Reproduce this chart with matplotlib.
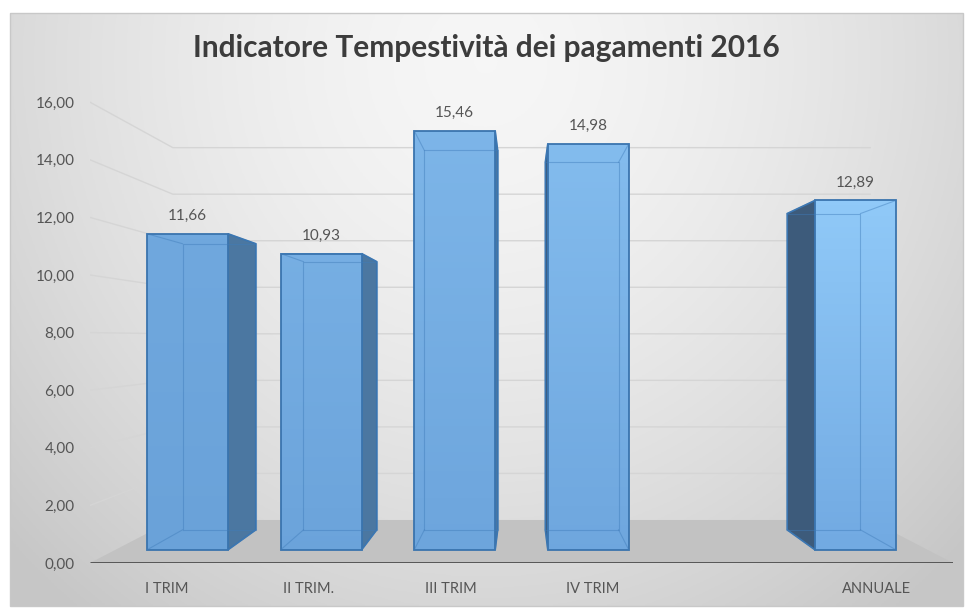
import matplotlib.pyplot as plt
import numpy as np
from matplotlib.patches import Polygon, Rectangle
from matplotlib.colors import to_rgb

# data
categories = ['I TRIM', 'II TRIM.', 'III TRIM', 'IV TRIM', '', 'ANNUALE']
values = [11.66, 10.93, 15.46, 14.98, None, 12.89]
y_ticks = [0, 2, 4, 6, 8, 10, 12, 14, 16]
title = 'Indicatore Tempestività dei pagamenti 2016'

plt.rcParams['font.family'] = ['Lato', 'DejaVu Sans']

# fake 3d: one-point perspective in data units
VP = (2.5, 7.78)
K_FRONT, K_BACK, K_WALL = 0.941, 0.852, 0.808
HALF_W = 0.303
X_LO, X_HI = -0.54, 5.54
TXT = '#555555'


def proj(x, y, k):
    return VP[0] + (x - VP[0]) * k, VP[1] + (y - VP[1]) * k


def fmt(v):
    return f'{v:.2f}'.replace('.', ',')


W, H = 973, 613
fig = plt.figure(figsize=(W / 100, H / 100), dpi=100)

# background of the chart area
bg = fig.add_axes([0, 0, 1, 1])
bg.set_xlim(0, W)
bg.set_ylim(H, 0)
bg.axis('off')
gx, gy = np.meshgrid(np.linspace(10, 963, 300), np.linspace(13, 606, 200))
r = np.sqrt(((gx - 486) / 600) ** 2 + ((gy - 60) / 640) ** 2)
shade = np.clip(0.965 - 0.16 * np.clip(r, 0, 1.3) ** 1.6, 0.78, 1)
bg.imshow(np.dstack([shade] * 3), extent=(10, 963, 606, 13), aspect='auto', zorder=0)
bg.add_patch(Rectangle((10, 13), 953, 593, fill=False, ec='#c8c8c8', lw=1, zorder=1))

ax = fig.add_axes([90 / W, 50 / H, 863 / W, 504 / H])
ax.patch.set_alpha(0)
ax.set_xlim(X_LO, X_HI)
ax.set_ylim(0, 17.5)
for s in ax.spines.values():
    s.set_visible(False)

# walls: gridlines on side wall and back wall
for t in y_ticks[1:]:
    bl = proj(X_LO, t, K_WALL)
    br = proj(X_HI, t, K_WALL)
    ax.plot([X_LO, bl[0], br[0]], [t, bl[1], br[1]], color='#d5d5d5', lw=1, zorder=1)

# floor
fl = [(X_LO, 0), (X_HI, 0), proj(X_HI, 0, K_WALL), proj(X_LO, 0, K_WALL)]
ax.add_patch(Polygon(fl, closed=True, fc='#c2c2c2', ec='none', zorder=2))
ax.plot([X_LO, X_HI], [0, 0], color='#4d4d4d', lw=2, zorder=3, solid_capstyle='butt')

# bars
c_top_l, c_top_r = np.array(to_rgb('#70a8de')), np.array(to_rgb('#90c9f8'))
c_bot_l, c_bot_r = np.array(to_rgb('#6aa2d9')), np.array(to_rgb('#72aae2'))
edge = '#3a74ae'
for i, v in enumerate(values):
    if v is None:
        continue
    t = i / 5
    ctop = c_top_l * (1 - t) + c_top_r * t
    cbot = c_bot_l * (1 - t) + c_bot_r * t

    fx0, fy0 = proj(i - HALF_W, 0, K_FRONT)
    fx1, fy1 = proj(i + HALF_W, v, K_FRONT)
    bx0, by0 = proj(i - HALF_W, 0, K_BACK)
    bx1, by1 = proj(i + HALF_W, v, K_BACK)

    # visible side face
    if i < VP[0]:
        side = [(fx1, fy0), (fx1, fy1), (bx1, by1), (bx1, by0)]
        sc = '#4b77a1'
    else:
        side = [(fx0, fy0), (fx0, fy1), (bx0, by1), (bx0, by0)]
        sc = '#3d5b7b'
    ax.add_patch(Polygon(side, closed=True, fc=sc, ec=edge, lw=1.2, zorder=4))

    # front face with vertical gradient
    g = np.linspace(0, 1, 64)[:, None]
    img = cbot[None, None, :] * (1 - g[..., None]) + ctop[None, None, :] * g[..., None]
    ax.imshow(img, extent=(fx0, fx1, fy0, fy1), origin='lower', aspect='auto', zorder=5)
    ax.add_patch(Rectangle((fx0, fy0), fx1 - fx0, fy1 - fy0, fill=False,
                           ec=edge, lw=1.3, zorder=6))

    # hidden edges seen through the glass
    inner = dict(color='#3f7cba', lw=0.8, alpha=0.45, zorder=6)
    ax.plot([bx0, bx1, bx1, bx0, bx0], [by0, by0, by1, by1, by0], **inner)
    for xf, xb in ((fx0, bx0), (fx1, bx1)):
        for yf, yb in ((fy0, by0), (fy1, by1)):
            ax.plot([xf, xb], [yf, yb], **inner)

    ax.annotate(fmt(v), ((fx0 + fx1) / 2, fy1), xytext=(0, 13), textcoords='offset points',
                ha='center', va='center', fontsize=11, color=TXT, zorder=7)

ax.set_yticks(y_ticks)
ax.set_yticklabels([fmt(t) for t in y_ticks])
ax.set_xticks(range(len(categories)))
ax.set_xticklabels(categories)
ax.tick_params(axis='y', length=0, pad=11, labelsize=11, labelcolor=TXT)
ax.tick_params(axis='x', length=0, pad=14, labelsize=10.5, labelcolor=TXT)

fig.text(486 / W, 1 - 48 / H, title, ha='center', va='center', fontsize=21.5,
         fontweight='bold', color='#3c3c3c')

fig.savefig('out.png', dpi=100)
